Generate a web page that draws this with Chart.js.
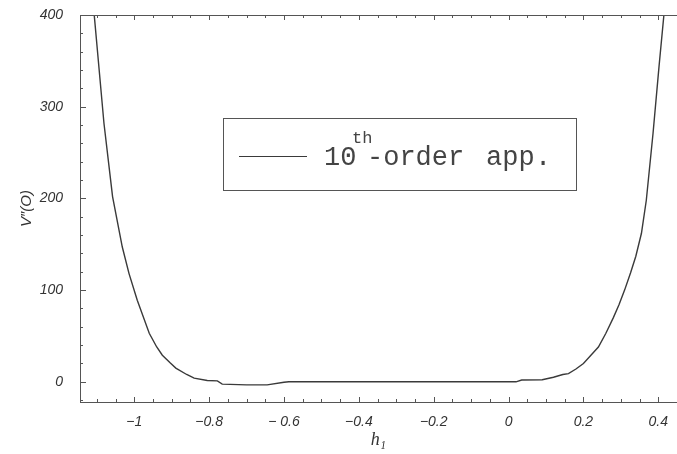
<!DOCTYPE html>
<html>
<head>
<meta charset="utf-8">
<script src="https://cdn.jsdelivr.net/npm/chart.js@4.4.1/dist/chart.umd.min.js"></script>
<style>
  html, body { margin: 0; padding: 0; background: #fff; }
</style>
</head>
<body>
<canvas id="chart" width="677" height="454"></canvas>
<script>
// curve: h1 -> V''(O)
const h1Values = [
  -1.107, -1.081, -1.058, -1.032, -1.014, -0.992, -0.96, -0.94, -0.925, -0.905,
  -0.889, -0.86, -0.84, -0.805, -0.778, -0.765, -0.7, -0.645, -0.6, -0.587,
  -0.4, -0.2, 0.0, 0.02, 0.035, 0.09, 0.12, 0.145, 0.16, 0.18,
  0.2, 0.22, 0.24, 0.26, 0.28, 0.295, 0.31, 0.326, 0.34, 0.355,
  0.368, 0.386, 0.402, 0.415
];
const vValues = [
  400, 282, 202, 147, 118, 89, 53, 38, 29, 21,
  15, 8, 4, 1.5, 1, -2.5, -3.3, -3.3, -0.5, 0,
  0, 0, 0, 0, 2, 2.2, 5, 8, 9, 14,
  20, 29, 38, 53, 70, 84, 100, 119, 137, 162,
  198, 271, 344, 400
];

const xTickValues = [-1, -0.8, -0.6, -0.4, -0.2, 0, 0.2, 0.4];
const xTickLabels = ["\u22121", "\u22120.8", "\u2212 0.6", "\u22120.4", "\u22120.2", "0", "0.2", "0.4"];
const yTickValues = [0, 100, 200, 300, 400];
const yTickLabels = ["0", "100", "200", "300", "400"];

const xRange = [-1.145, 0.45];
const yRange = [-22, 400];

const axisColor = "#555";
const textColor = "#333";

const points = h1Values.map((h, i) => ({ x: h, y: vValues[i] }));

// inward tick marks on bottom, top and left, plus the top frame line
const frameTicks = {
  id: "frameTicks",
  afterDraw(chart) {
    const { ctx, chartArea: a, scales: { x, y } } = chart;
    ctx.save();
    ctx.strokeStyle = axisColor;
    ctx.lineWidth = 1;
    ctx.beginPath();
    ctx.moveTo(a.left, a.top + 0.5);
    ctx.lineTo(a.right, a.top + 0.5);

    for (let i = -22; i <= 9; i++) {
      const v = i * 0.05;
      if (v < xRange[0] || v > xRange[1]) continue;
      const px = Math.round(x.getPixelForValue(v)) + 0.5;
      const len = i % 4 === 0 ? 5 : 3;
      ctx.moveTo(px, a.bottom);
      ctx.lineTo(px, a.bottom - len);
      ctx.moveTo(px, a.top);
      ctx.lineTo(px, a.top + len);
    }
    for (let j = -1; j <= 20; j++) {
      const v = j * 20;
      const py = Math.round(y.getPixelForValue(v)) + 0.5;
      const len = j % 5 === 0 ? 6 : 3;
      ctx.moveTo(a.left, py);
      ctx.lineTo(a.left + len, py);
    }
    ctx.stroke();
    ctx.restore();
  }
};

// boxed legend with the superscript "th"
const boxLegend = {
  id: "boxLegend",
  afterDraw(chart) {
    const ctx = chart.ctx;
    ctx.save();
    ctx.strokeStyle = "#555";
    ctx.lineWidth = 1;
    ctx.strokeRect(223.5, 118.5, 353, 72);

    ctx.strokeStyle = "#3a3a3a";
    ctx.lineWidth = 1.2;
    ctx.beginPath();
    ctx.moveTo(239, 156.5);
    ctx.lineTo(307, 156.5);
    ctx.stroke();

    ctx.fillStyle = "#444";
    ctx.textBaseline = "alphabetic";
    ctx.font = "27px 'Liberation Mono'";
    ctx.fillText("10", 324, 165);
    ctx.font = "17px 'Liberation Mono'";
    ctx.fillText("th", 352, 143);
    ctx.font = "27px 'Liberation Mono'";
    ctx.fillText("-order", 367, 165);
    ctx.fillText("app", 486, 165);
    ctx.fillText(".", 535, 165);
    ctx.restore();
  }
};

const tickFont = { family: "'Liberation Sans', Arial, sans-serif", size: 14, style: "italic" };

const chart = new Chart(document.getElementById("chart"), {
  type: "line",
  data: {
    datasets: [
      {
        label: "10th-order app.",
        data: points,
        borderColor: "#3a3a3a",
        borderWidth: 1.4,
        pointRadius: 0,
        tension: 0,
        fill: false
      }
    ]
  },
  options: {
    responsive: false,
    animation: false,
    layout: { padding: { top: 15, right: 0, left: 0, bottom: 0 } },
    plugins: {
      legend: { display: false },
      tooltip: { enabled: false }
    },
    scales: {
      x: {
        type: "linear",
        min: xRange[0],
        max: xRange[1],
        afterBuildTicks: (s) => { s.ticks = xTickValues.map((v) => ({ value: v })); },
        afterFit: (s) => { s.height = 52; s.paddingLeft = 0; s.paddingRight = 0; },
        grid: { drawOnChartArea: false, drawTicks: false },
        border: { display: true, color: axisColor, width: 1 },
        ticks: {
          autoSkip: false,
          maxRotation: 0,
          padding: 12,
          color: textColor,
          font: tickFont,
          callback: (val) => xTickLabels[xTickValues.indexOf(val)]
        },
        title: {
          display: true,
          text: "h\u2081",
          color: textColor,
          font: { family: "'Liberation Serif', serif", size: 18, style: "italic" },
          padding: { top: 0, bottom: 3 }
        }
      },
      y: {
        type: "linear",
        min: yRange[0],
        max: yRange[1],
        afterBuildTicks: (s) => { s.ticks = yTickValues.map((v) => ({ value: v })); },
        afterFit: (s) => { s.width = 80; s.paddingTop = 0; s.paddingBottom = 0; },
        grid: { drawOnChartArea: false, drawTicks: false },
        border: { display: true, color: axisColor, width: 1 },
        ticks: {
          autoSkip: false,
          padding: 17,
          color: textColor,
          font: tickFont,
          callback: (val) => yTickLabels[yTickValues.indexOf(val)]
        },
        title: {
          display: true,
          text: "V\u2033(O)",
          color: textColor,
          font: { family: "'Liberation Sans', Arial, sans-serif", size: 15, style: "italic" },
          padding: { top: 18, bottom: 0 }
        }
      }
    }
  },
  plugins: [frameTicks, boxLegend]
});
</script>
</body>
</html>
